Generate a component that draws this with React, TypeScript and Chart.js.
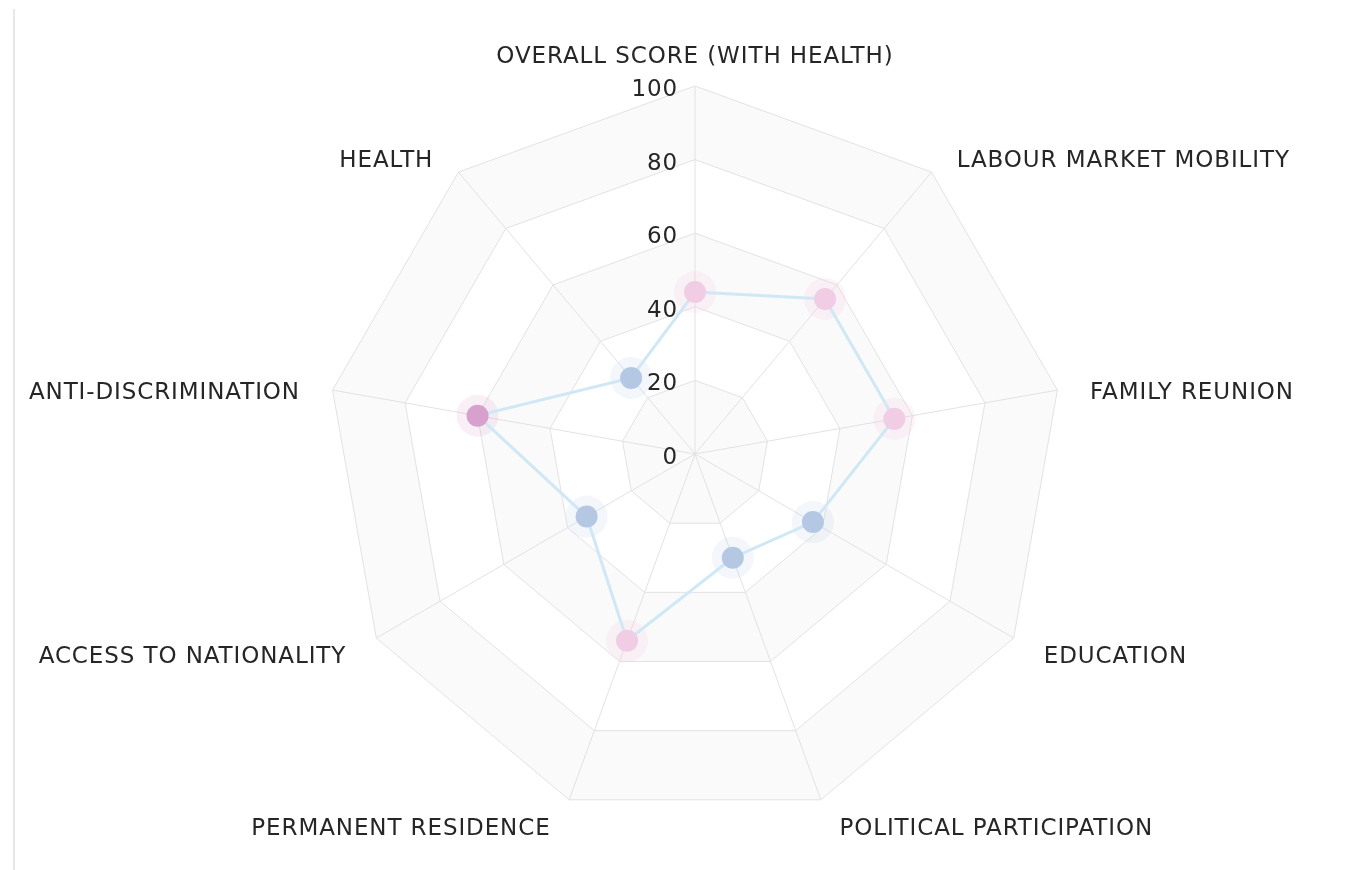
import React, { useEffect, useRef } from "react";
import { Chart, registerables } from "chart.js";

Chart.register(...registerables);

// ---- data ----
const categories = [
  "OVERALL SCORE (WITH HEALTH)",
  "LABOUR MARKET MOBILITY",
  "FAMILY REUNION",
  "EDUCATION",
  "POLITICAL PARTICIPATION",
  "PERMANENT RESIDENCE",
  "ACCESS TO NATIONALITY",
  "ANTI-DISCRIMINATION",
  "HEALTH",
];
const scores = [44, 55, 55, 37, 30, 54, 34, 60, 27];
const tickValues = [0, 20, 40, 60, 80, 100];
const shadedBands = [
  [0, 20],
  [40, 60],
  [80, 100],
];

// ---- style ----
const FONT = '23px "DejaVu Sans", Verdana, sans-serif';
const TEXT = "#262626";
const GRID = "#e2e2e2";
const BAND = "#fafafa";
const LINE = "#d0e8f5";

function dotColor(v: number) {
  if (v >= 60) return "#d8a0cc";
  if (v >= 41) return "#f0cde4";
  return "#b4c8e3";
}
function haloColor(v: number) {
  if (v >= 60) return "rgba(216,160,204,0.16)";
  if (v >= 41) return "rgba(240,205,228,0.22)";
  return "rgba(180,200,227,0.16)";
}

const spiderPlugin = {
  id: "spiderExtras",
  beforeDraw(chart: any) {
    const s = chart.scales.r;
    const ctx = chart.ctx;
    const n = chart.data.labels.length;
    ctx.save();
    ctx.fillStyle = BAND;
    for (const [a, b] of shadedBands) {
      ctx.beginPath();
      for (let i = 0; i < n; i++) {
        const p = s.getPointPositionForValue(i, b);
        if (i === 0) ctx.moveTo(p.x, p.y);
        else ctx.lineTo(p.x, p.y);
      }
      ctx.closePath();
      if (a > 0) {
        for (let i = n - 1; i >= 0; i--) {
          const p = s.getPointPositionForValue(i, a);
          if (i === n - 1) ctx.moveTo(p.x, p.y);
          else ctx.lineTo(p.x, p.y);
        }
        ctx.closePath();
      }
      ctx.fill("evenodd");
    }
    ctx.restore();
  },
  afterDatasetsDraw(chart: any) {
    const s = chart.scales.r;
    const ctx = chart.ctx;
    ctx.save();
    ctx.font = FONT;
    ctx.fillStyle = TEXT;
    try {
      (ctx as any).letterSpacing = "0.9px";
    } catch (e) {}
    // radial tick labels
    ctx.textAlign = "right";
    ctx.textBaseline = "middle";
    for (const v of tickValues) {
      const d = s.getDistanceFromCenterForValue(v);
      ctx.fillText(String(v), s.xCenter - 17, s.yCenter - d + 4);
    }
    // category labels
    const labels = chart.data.labels as string[];
    labels.forEach((label, i) => {
      const a = s.getIndexAngle(i);
      const sinA = Math.sin(a);
      const cosA = Math.cos(a);
      const p = s.getPointPosition(i, s.drawingArea + 22);
      let x = p.x;
      let y = p.y;
      if (Math.abs(sinA) < 1e-3) {
        ctx.textAlign = "center";
        y += cosA > 0 ? -7 : 7;
      } else {
        ctx.textAlign = sinA > 0 ? "left" : "right";
        x += sinA > 0 ? 11 : -11;
        y += 7 - 2 * cosA;
      }
      ctx.fillText(label, x, y);
    });
    ctx.restore();
  },
};

export default function App() {
  const ref = useRef<HTMLCanvasElement | null>(null);

  useEffect(() => {
    if (!ref.current) return;
    const chart = new Chart(ref.current, {
      type: "radar",
      data: {
        labels: categories,
        datasets: [
          {
            data: scores,
            borderColor: LINE,
            borderWidth: 3,
            fill: false,
            pointRadius: 11,
            pointBorderWidth: 0,
            pointBackgroundColor: scores.map(dotColor),
            pointHoverRadius: 11,
          },
          {
            data: scores,
            showLine: false,
            borderWidth: 0,
            fill: false,
            pointRadius: 21,
            pointBorderWidth: 0,
            pointBackgroundColor: scores.map(haloColor),
            pointHoverRadius: 21,
          },
        ],
      },
      options: {
        responsive: false,
        animation: false,
        layout: { padding: { left: 312, right: 289, top: 77, bottom: 48 } },
        plugins: { legend: { display: false }, tooltip: { enabled: false } },
        elements: { line: { tension: 0 } },
        scales: {
          r: {
            min: 0,
            max: 100,
            beginAtZero: true,
            ticks: { display: false, stepSize: 20 },
            pointLabels: { display: false },
            grid: { color: GRID, lineWidth: 1, circular: false },
            angleLines: { color: GRID, lineWidth: 1 },
          },
        },
      },
      plugins: [spiderPlugin],
    });
    return () => chart.destroy();
  }, []);

  return (
    <div
      style={{
        position: "absolute",
        left: 13,
        top: 9,
        width: 1339,
        height: 861,
        borderLeft: "2px solid #e8e8e8",
        boxSizing: "border-box",
        overflow: "hidden",
        background: "#ffffff",
      }}
    >
      <canvas ref={ref} width={1337} height={861} style={{ display: "block" }} />
    </div>
  );
}
